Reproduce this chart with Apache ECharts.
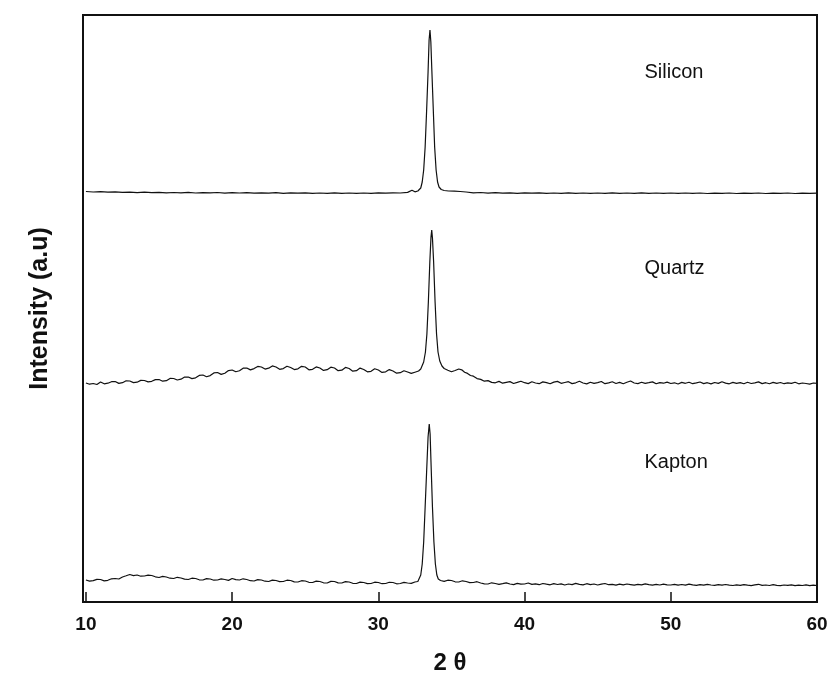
<!DOCTYPE html>
<html>
<head>
<meta charset="UTF-8" />
<title>XRD patterns</title>
<script src="https://cdn.jsdelivr.net/npm/echarts@6/dist/echarts.min.js"></script>
<style type="text/css">
body{
	margin: 0px;
	background: #fff;
}
#chart{
	width: 833px;
	height: 683px;
}
</style>
</head>
<body>
<div id="chart"></div>

<script type="text/javascript">

// tick labels on 2 theta axis
var xTicks = [10, 20, 30, 40, 50, 60];

// [2theta, intensity] (arbitrary units, stacked)
var silicon = [
	[10,410.5],[10.5,410],[11,410.3],[11.5,409.8],[12,410.2],[12.5,409.6],[13,409.9],[13.5,409.4],[14,409.8],[14.5,409.3],
	[15,409.6],[15.5,409.1],[16,409.5],[16.5,409.2],[17,409.6],[17.5,409],[18,409.4],[18.5,409.1],[19,409.5],[19.5,408.9],
	[20,409.3],[20.5,409],[21,409.4],[21.5,408.8],[22,409.2],[22.5,408.9],[23,409.3],[23.5,408.7],[24,409.1],[24.5,408.8],
	[25,409.2],[25.5,408.7],[26,409],[26.5,408.6],[27,409.1],[27.5,408.7],[28,409],[28.5,408.6],[29,409],[29.5,408.7],
	[30,409.1],[30.5,408.8],[31,409.2],[31.5,409],[32,409.6],[32.3,411.8],[32.5,410.2],[32.7,411],[32.9,414],[33,420],
	[33.1,432],[33.2,455],[33.3,491],[33.4,530],[33.47,562],[33.53,572],[33.59,560],[33.65,535],[33.76,491],[33.85,455],
	[33.95,432],[34.05,420],[34.15,415],[34.3,412.5],[34.5,411.5],[34.8,411],[35.2,410.8],[35.6,410.5],[36,410],[36.5,409.2],
	[37,409.5],[37.5,408.9],[38,409.3],[38.5,408.8],[39,409.2],[39.5,408.7],[40,409.1],[40.5,408.8],[41,409.2],[41.5,408.7],
	[42,409],[42.5,408.6],[43,409.1],[43.5,408.7],[44,409],[44.5,408.6],[45,409],[45.5,408.7],[46,409.1],[46.5,408.6],
	[47,409],[47.5,408.7],[48,409.1],[48.5,408.6],[49,409],[49.5,408.7],[50,409],[50.5,408.6],[51,409],[51.5,408.7],
	[52,409],[52.5,408.5],[53,408.9],[53.5,408.6],[54,409],[54.5,408.5],[55,408.9],[55.5,408.6],[56,409],[56.5,408.5],
	[57,408.9],[57.5,408.6],[58,409],[58.5,408.5],[59,408.9],[59.5,408.6],[60,408.8]
];

var quartz = [
	[10,219],[10.25,217.8],[10.5,218.5],[10.75,217.5],[11,220],[11.25,218.2],[11.5,218.8],[11.75,220.3],[12,220.5],[12.25,218.6],
	[12.5,219.3],[12.75,221.2],[13,221],[13.25,219.4],[13.5,219.8],[13.75,221.6],[14,221.5],[14.25,220.1],[14.5,220.7],[14.75,222.4],
	[15,222.5],[15.25,220.8],[15.5,221.3],[15.75,223.6],[16,223.5],[16.25,222],[16.5,222.8],[16.75,224.9],[17,225],[17.25,223.4],
	[17.5,224.2],[17.75,226.6],[18,227],[18.25,225.3],[18.5,226.4],[18.75,229.1],[19,229.5],[19.25,227.6],[19.5,228.8],[19.75,231.4],
	[20,232],[20.25,230.2],[20.5,231.3],[20.75,233.8],[21,234],[21.25,232.1],[21.5,233.4],[21.75,235.6],[22,235],[22.25,232.9],
	[22.5,233.8],[22.75,236.1],[23,235],[23.25,232.7],[23.5,233.4],[23.75,235.8],[24,234.5],[24.25,232.4],[24.5,233.2],[24.75,235.7],
	[25,235],[25.25,232.2],[25.5,232.7],[25.75,235.1],[26,234],[26.25,231.6],[26.5,232.3],[26.75,234.8],[27,234],[27.25,231.3],
	[27.5,231.8],[27.75,234.6],[28,233.5],[28.25,230.8],[28.5,231.3],[28.75,233.9],[29,232.5],[29.25,230.2],[29.5,230.7],[29.75,233.2],
	[30,232],[30.25,229.6],[30.5,230.2],[30.75,232.4],[31,231],[31.25,228.8],[31.5,229.3],[31.75,231.3],[32,230],[32.25,228.6],
	[32.5,229.8],[32.75,231],[32.9,233],[33,235],[33.1,240],[33.22,250],[33.32,268],[33.42,300],[33.52,340],[33.6,365],
	[33.65,372],[33.7,364],[33.78,340],[33.88,300],[33.98,268],[34.08,250],[34.2,241],[34.35,236],[34.5,233.5],[34.75,231.8],
	[35,230.2],[35.25,231.5],[35.5,233],[35.7,232.2],[35.9,229.8],[36.1,228.6],[36.3,226.5],[36.5,225.8],[36.75,223.4],[37,222.6],
	[37.25,220.8],[37.5,221.4],[37.75,219.6],[38,219.2],[38.25,220.6],[38.5,218.8],[38.75,219.7],[39,220.4],[39.25,218.5],[39.5,219.6],
	[39.75,220.8],[40,219.3],[40.25,218.4],[40.5,220.2],[40.75,219],[41,218.3],[41.25,220.1],[41.5,219.4],[41.75,218.2],[42,219.9],
	[42.25,220.6],[42.5,218.7],[42.75,219.5],[43,220.3],[43.25,218.4],[43.5,219.2],[43.75,220.7],[44,219],[44.25,218.1],[44.5,219.8],
	[44.75,218.6],[45,219.4],[45.25,220.5],[45.5,218.3],[45.75,219.1],[46,220.2],[46.25,218.5],[46.5,219.6],[46.75,218.2],[47,219.8],
	[47.25,221],[47.5,219],[47.75,218.4],[48,219.7],[48.25,218.6],[48.5,219.3],[48.75,220.1],[49,218.2],[49.25,219.4],[49.5,218.8],
	[49.75,219.9],[50,218.5],[50.25,219.2],[50.5,218],[50.75,219.6],[51,218.7],[51.25,219.8],[51.5,218.3],[51.75,219.1],[52,220],
	[52.25,218.4],[52.5,219.3],[52.75,218.1],[53,219.5],[53.25,218.6],[53.5,220.3],[53.75,218.9],[54,218.2],[54.25,219.6],[54.5,218.7],
	[54.75,219.4],[55,218.3],[55.25,219.7],[55.5,218.5],[55.75,219.2],[56,220.1],[56.25,218.4],[56.5,219.3],[56.75,218.2],[57,219.6],
	[57.25,218.7],[57.5,219.5],[57.75,218.3],[58,219.1],[58.25,218.6],[58.5,219.8],[58.75,218.2],[59,219],[59.25,218.5],[59.5,217.9],
	[59.75,219],[60,218.6]
];

var kapton = [
	[10,22],[10.25,20.9],[10.5,21.4],[10.75,22.6],[11,22.5],[11.25,21.1],[11.5,21.7],[11.75,23.2],[12,23.5],[12.25,23],
	[12.5,25],[12.75,26.2],[13,27.5],[13.25,26.4],[13.5,27],[13.75,25.8],[14,26],[14.25,26.9],[14.5,26.5],[14.75,25.2],
	[15,24.5],[15.25,25.6],[15.5,25],[15.75,23.8],[16,23.5],[16.25,24.7],[16.5,24],[16.75,22.9],[17,22.5],[17.25,23.8],
	[17.5,23.5],[17.75,22.2],[18,22],[18.25,23.4],[18.5,23],[18.75,21.8],[19,22],[19.25,23.1],[19.5,22.5],[19.75,21.6],
	[20,23.5],[20.25,22.4],[20.5,22],[20.75,23.2],[21,22.5],[21.25,21.3],[21.5,21],[21.75,22.4],[22,22],[22.25,20.8],
	[22.5,20.5],[22.75,21.9],[23,21.5],[23.25,20.4],[23.5,20.5],[23.75,21.8],[24,21.5],[24.25,20.1],[24.5,20],[24.75,21.3],
	[25,21],[25.25,19.7],[25.5,19.5],[25.75,20.9],[26,20.5],[26.25,19.2],[26.5,19],[26.75,20.6],[27,20.5],[27.25,19.1],
	[27.5,19],[27.75,20.4],[28,20],[28.25,18.7],[28.5,18.5],[28.75,19.9],[29,19.5],[29.25,18.4],[29.5,18.5],[29.75,19.8],
	[30,19.5],[30.25,18.3],[30.5,18.5],[30.75,19.7],[31,19.5],[31.25,18.2],[31.5,18.5],[31.75,19.6],[32,19],[32.25,18.6],
	[32.5,20],[32.7,20.5],[32.8,22],[32.9,27],[33,38],[33.1,60],[33.2,95],[33.3,130],[33.4,165],[33.48,178],
	[33.54,168],[33.6,140],[33.7,95],[33.8,60],[33.9,38],[34,27],[34.1,23],[34.25,21.5],[34.5,20.6],[34.75,21.8],
	[35,21.5],[35.25,20.2],[35.5,20],[35.75,21.2],[36,20.5],[36.25,19.4],[36.5,19.5],[36.75,20.3],[37,19],[37.25,18.2],
	[37.5,18],[37.75,19.2],[38,18.5],[38.25,17.6],[38.5,18.3],[38.75,19.1],[39,18],[39.25,17.4],[39.5,18.6],[39.75,17.8],
	[40,18],[40.25,19],[40.5,17.6],[40.75,18.2],[41,17.3],[41.25,18.5],[41.5,17.8],[41.75,17.2],[42,18.4],[42.25,17.5],
	[42.5,18.1],[42.75,17],[43,18],[43.25,17.4],[43.5,18.6],[43.75,17.7],[44,17.1],[44.25,18.3],[44.5,17.4],[44.75,18],
	[45,17],[45.25,17.8],[45.5,18.5],[45.75,17.3],[46,17.6],[46.25,16.9],[46.5,17.9],[46.75,17.2],[47,18],[47.25,17.4],
	[47.5,16.8],[47.75,17.7],[48,17.1],[48.25,18.1],[48.5,17.3],[48.75,16.9],[49,17.6],[49.25,17],[49.5,17.8],[49.75,17.2],
	[50,17],[50.25,17.7],[50.5,16.8],[50.75,17.5],[51,16.9],[51.25,17.9],[51.5,17.1],[51.75,16.7],[52,17.4],[52.25,16.8],
	[52.5,17.6],[52.75,17],[53,16.6],[53.25,17.3],[53.5,16.8],[53.75,17.5],[54,16.9],[54.25,16.5],[54.5,17.2],[54.75,16.7],
	[55,17.4],[55.25,16.8],[55.5,16.4],[55.75,17.1],[56,17.7],[56.25,16.6],[56.5,17],[56.75,16.5],[57,17.3],[57.25,16.7],
	[57.5,16.3],[57.75,17],[58,16.6],[58.25,17.2],[58.5,16.4],[58.75,16.9],[59,16.5],[59.25,17.1],[59.5,16.3],[59.75,16.8],
	[60,16.5]
];

// sample names and where their labels sit, in data units
var sampleNames = ['Silicon', 'Quartz', 'Kapton'];
var labelAt = [[48.2, 530], [48.2, 334], [48.2, 140]];

var font = '"Liberation Sans", Arial, sans-serif';

function traceSeries(data){
	return {
		type: 'line',
		data: data,
		showSymbol: false,
		silent: true,
		animation: false,
		lineStyle: { color: '#111', width: 1.2 }
	};
}

var chart = echarts.init(document.getElementById('chart'));

chart.setOption({
	backgroundColor: '#fff',
	animation: false,
	grid: {
		left: 83, top: 15, right: 16, bottom: 81,
		show: true,
		borderColor: '#111',
		borderWidth: 2
	},
	xAxis: {
		type: 'value',
		min: 9.8,
		max: 60,
		name: '2 θ',
		nameLocation: 'middle',
		nameGap: 49,
		nameTextStyle: { fontFamily: font, fontWeight: 'bold', fontSize: 24, color: '#111' },
		axisLine: { show: true, onZero: false, lineStyle: { color: '#111', width: 2 } },
		axisTick: { show: true, inside: true, length: 10, customValues: xTicks, lineStyle: { color: '#111', width: 1.5 } },
		axisLabel: { customValues: xTicks, margin: 13, fontFamily: font, fontWeight: 'bold', fontSize: 19, color: '#111' },
		splitLine: { show: false }
	},
	yAxis: {
		type: 'value',
		min: 0,
		max: 587,
		name: 'Intensity (a.u)',
		nameLocation: 'middle',
		nameGap: 30,
		nameTextStyle: { fontFamily: font, fontWeight: 'bold', fontSize: 25, color: '#111' },
		axisLine: { show: true, lineStyle: { color: '#111', width: 2 } },
		axisTick: { show: false },
		axisLabel: { show: false },
		splitLine: { show: false }
	},
	series: [traceSeries(silicon), traceSeries(quartz), traceSeries(kapton)]
});

// sample names placed through the axes' own scales
var texts = sampleNames.map(function(name, i){
	var p = chart.convertToPixel({ gridIndex: 0 }, labelAt[i]);
	return {
		type: 'text',
		x: p[0],
		y: p[1],
		style: {
			text: name,
			font: '20px ' + font,
			fill: '#111',
			textVerticalAlign: 'middle'
		}
	};
});
chart.setOption({ graphic: texts });

</script>
</body>
</html>
